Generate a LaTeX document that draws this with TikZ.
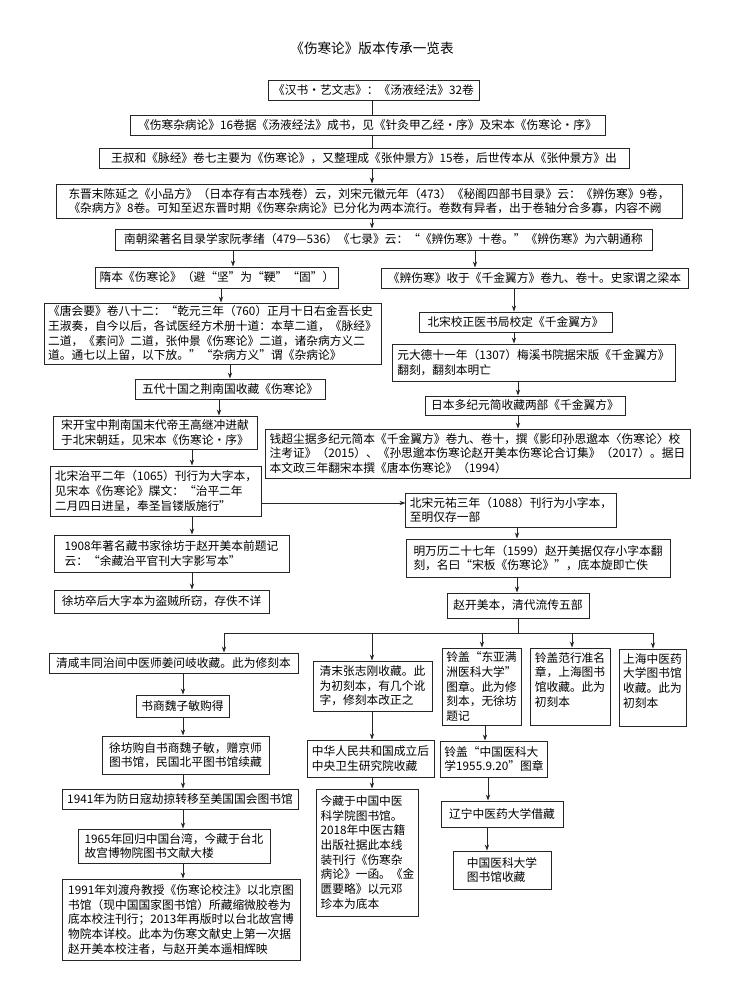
\documentclass[tikz,border=0pt]{standalone}
\usepackage{fontspec}
\setmainfont{Noto Sans CJK SC}
\usetikzlibrary{arrows.meta}
\newcommand\mybox[7]{\node[#1, minimum width={(#5-#3)*0.75pt}, minimum height={(#6-#4)*0.75pt}] (#2) at ({(#3+#5)/2},{(#4+#6)/2}) {#7};}
\newcommand\varrow[3]{\coordinate (vx) at (#3,0); \draw[arr] (#1.south -| vx) -- (#2.north -| vx);}
\newcommand\vplain[3]{\coordinate (vx) at (#3,0); \draw[ln] (#1.south -| vx) -- (#2.north -| vx);}
\begin{document}
\begin{tikzpicture}[x=0.75pt,y=-0.75pt,
  box/.style={draw=black!85, line width=0.75pt, font=\fontsize{8.8}{11}\selectfont, inner xsep=3pt, inner ysep=1pt, align=left},
  cbox/.style={box, align=center},
  arr/.style={draw=black!85, line width=0.6pt, -{Stealth[length=4.5pt,width=3.2pt]}},
  ln/.style={draw=black!85, line width=0.6pt},
]
\fill[white] (0,0) rectangle (731,1000);
\useasboundingbox (0,0) rectangle (731,1000);

\node[font=\fontsize{10.2}{12}\selectfont] (title) at (372,48) {《伤寒论》版本传承一览表};

\mybox{cbox}{n1}{268}{80}{479}{100}{《汉书·艺文志》：《汤液经法》32卷}
\mybox{cbox}{n2}{130}{115}{605}{135}{《伤寒杂病论》16卷据《汤液经法》成书，见《针灸甲乙经·序》及宋本《伤寒论·序》}
\mybox{cbox}{n3}{99}{148}{629}{168}{王叔和《脉经》卷七主要为《伤寒论》，又整理成《张仲景方》15卷，后世传本从《张仲景方》出}
\mybox{box}{n4}{56}{184}{682}{218}{东晋末陈延之《小品方》（日本存有古本残卷）云，刘宋元徽元年（473）《秘阁四部书目录》云：《辨伤寒》9卷，\\《杂病方》8卷。可知至迟东晋时期《伤寒杂病论》已分化为两本流行。卷数有异者，出于卷轴分合多寡，内容不阙}
\mybox{cbox}{n5}{115}{229}{652}{250}{南朝梁著名目录学家阮孝绪（479—536）《七录》云：“《辨伤寒》十卷。”《辨伤寒》为六朝通称}

% left column
\mybox{cbox}{sui}{97}{267}{337}{288}{隋本《伤寒论》（避“坚”为“鞕”“固”）}
\mybox{box}{tang}{44}{303}{381}{364}{《唐会要》卷八十二：“乾元三年（760）正月十日右金吾长史\\王淑奏，自今以后，各试医经方术册十道：本草二道，《脉经》\\二道，《素问》二道，张仲景《伤寒论》二道，诸杂病方义二\\道。通七以上留，以下放。”“杂病方义”谓《杂病论》}
\mybox{cbox}{wudai}{135}{379}{325}{399}{五代十国之荆南国收藏《伤寒论》}
\mybox{box}{kaibao}{53}{416}{257}{449}{宋开宝中荆南国末代帝王高继冲进献\\于北宋朝廷，见宋本《伤寒论·序》}
\mybox{box}{zhiping}{54}{466}{258}{516}{北宋治平二年（1065）刊行为大字本，\\见宋本《伤寒论》牒文：“治平二年\\二月四日进呈，奉圣旨镂版施行”}
\mybox{box}{ya}{54}{535}{289}{572}{1908年著名藏书家徐坊于赵开美本前题记\\云：“余藏治平官刊大字影写本”}
\mybox{cbox}{xfzh}{54}{590}{269}{613}{徐坊卒后大字本为盗贼所窃，存佚不详}

% right column
\mybox{cbox}{bian}{381}{268}{688}{288}{《辨伤寒》收于《千金翼方》卷九、卷十。史家谓之梁本}
\mybox{cbox}{jiaozheng}{419}{312}{612}{332}{北宋校正医书局校定《千金翼方》}
\mybox{box}{dade}{392}{344}{675}{381}{元大德十一年（1307）梅溪书院据宋版《千金翼方》\\翻刻，翻刻本明亡}
\mybox{cbox}{duoji}{425}{396}{625}{415}{日本多纪元简收藏两部《千金翼方》}
\mybox{box}{qian}{265}{429}{690}{478}{钱超尘据多纪元简本《千金翼方》卷九、卷十，撰《影印孙思邈本〈伤寒论〉校\\注考证》（2015）、《孙思邈本伤寒论赵开美本伤寒论合订集》（2017）。据日\\本文政三年翻宋本撰《唐本伤寒论》（1994）}
\mybox{box}{yuanyou}{406}{493}{616}{527}{北宋元祐三年（1088）刊行为小字本，\\至明仅存一部}
\mybox{box}{wanli}{406}{539}{670}{577}{明万历二十七年（1599）赵开美据仅存小字本翻\\刻，名曰“宋板《伤寒论》”，底本旋即亡佚}
\mybox{cbox}{zkm}{447}{593}{589}{618}{赵开美本，清代流传五部}

% bottom branches
\mybox{cbox}{xianfeng}{49}{653}{298}{673}{清咸丰同治间中医师姜问岐收藏。此为修刻本}
\mybox{cbox}{wei}{136}{695}{229}{717}{书商魏子敏购得}
\mybox{box}{xfbuy}{102}{736}{269}{774}{徐坊购自书商魏子敏，赠京师\\图书馆，民国北平图书馆续藏}
\mybox{cbox}{yb}{62}{789}{298}{809}{1941年为防日寇劫掠转移至美国国会图书馆}
\mybox{box}{yc}{78}{829}{270}{863}{1965年回归中国台湾，今藏于台北\\故宫博物院图书文献大楼}
\mybox{box}{yd}{62}{879}{300}{960}{1991年刘渡舟教授《伤寒论校注》以北京图\\书馆（现中国国家图书馆）所藏缩微胶卷为\\底本校注刊行；2013年再版时以台北故宫博\\物院本详校。此本为伤寒文献史上第一次据\\赵开美本校注者，与赵开美本遥相辉映}

\mybox{box}{zhigang}{313}{661}{432}{711}{清末张志刚收藏。此\\为初刻本，有几个讹\\字，修刻本改正之}
\mybox{box}{prc}{307}{740}{434}{777}{中华人民共和国成立后\\中央卫生研究院收藏}
\mybox{box}{jincang}{318}{789}{417}{916}{今藏于中国中医\\科学院图书馆。\\2018年中医古籍\\出版社据此本线\\装刊行《伤寒杂\\病论》一函。《金\\匮要略》以元邓\\珍本为底本}

\mybox{box}{dongya}{442}{648}{521}{725}{铃盖“东亚满\\洲医科大学”\\图章。此为修\\刻本，无徐坊\\题记}
\mybox{box}{fan}{530}{648}{610}{725}{铃盖范行准名\\章，上海图书\\馆收藏。此为\\初刻本\\\mbox{}}
\mybox{box}{shanghai}{619}{649}{686}{726}{上海中医药\\大学图书馆\\收藏。此为\\初刻本\\\mbox{}}
\mybox{box}{cmu}{441}{741}{547}{777}{铃盖“中国医科大\\学1955.9.20”图章}
\mybox{cbox}{liaoning}{441}{801}{563}{827}{辽宁中医药大学借藏}
\mybox{box}{cmulib}{453}{851}{551}{889}{中国医科大学\\图书馆收藏}

% connectors: main spine
\vplain{n1}{n2}{372}
\vplain{n2}{n3}{372}
\varrow{n3}{n4}{372}
\varrow{n4}{n5}{372}
\varrow{n5}{sui}{233}
\varrow{n5}{bian}{475}
% left chain
\varrow{sui}{tang}{221}
\varrow{tang}{wudai}{230}
\varrow{wudai}{kaibao}{219}
\varrow{kaibao}{zhiping}{192}
\varrow{zhiping}{ya}{192}
\varrow{ya}{xfzh}{192}
\coordinate (hy) at (0,503);
\draw[arr] (zhiping.east |- hy) -- (yuanyou.west |- hy);
% right chain
\varrow{bian}{jiaozheng}{514}
\varrow{jiaozheng}{dade}{514}
\varrow{dade}{duoji}{518}
\varrow{duoji}{qian}{518}
\varrow{yuanyou}{wanli}{517}
\varrow{wanli}{zkm}{517}
% branch
\coordinate (bt) at (518,633);
\coordinate (bl) at (224,633);
\coordinate (brr) at (653,633);
\coordinate (b2) at (372,633);
\coordinate (b3) at (482,633);
\coordinate (b4) at (572,633);
\draw[ln] (zkm.south -| bt) -- (bt);
\draw[arr] (brr) -- (bl) -- (xianfeng.north -| bl);
\draw[arr] (bl) -- (brr) -- (shanghai.north -| brr);
\draw[arr] (b2) -- (zhigang.north -| b2);
\draw[arr] (b3) -- (dongya.north -| b3);
\draw[arr] (b4) -- (fan.north -| b4);
% bottom chains
\varrow{xianfeng}{wei}{183}
\varrow{wei}{xfbuy}{183}
\varrow{xfbuy}{yb}{183}
\varrow{yb}{yc}{183}
\varrow{yc}{yd}{183}
\varrow{zhigang}{prc}{372}
\varrow{prc}{jincang}{372}
\varrow{dongya}{cmu}{485}
\varrow{cmu}{liaoning}{488}
\varrow{liaoning}{cmulib}{487}
\end{tikzpicture}
\end{document}
